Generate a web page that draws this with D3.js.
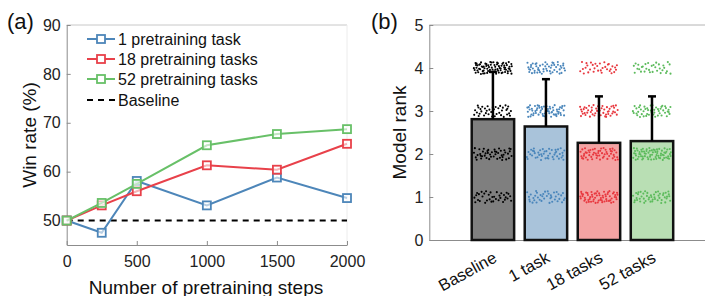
<!DOCTYPE html>
<html lang="en">
<head>
<meta charset="utf-8">
<title>Win rate and model rank</title>
<script src="https://cdn.jsdelivr.net/npm/d3@7"></script>
<style>
  body { margin: 0; background: #fff; }
  svg { font-family: "Liberation Sans", Arial, sans-serif; }
  .tick text { fill: #222; }
</style>
</head>
<body>
<script>
// ---- data, panel (a) ----
var steps = [0, 250, 500, 1000, 1500, 2000];
var oneTask = [50, 47.5, 58.1, 53.1, 58.8, 54.6];
var eighteenTasks = [50, 53.1, 56.0, 61.3, 60.4, 65.7];
var fiftyTwoTasks = [50, 53.6, 57.5, 65.4, 67.7, 68.7];
var seriesNames = ["1 pretraining task", "18 pretraining tasks", "52 pretraining tasks"];
var baselineRate = 50;
var xTicksA = [0, 500, 1000, 1500, 2000];
var yTicksA = [50, 60, 70, 80, 90];

// ---- data, panel (b) ----
var groups = ["Baseline", "1 task", "18 tasks", "52 tasks"];
var meanRank = [2.81, 2.64, 2.26, 2.30];
var errRank = [1.10, 1.10, 1.08, 1.04];
var rankCounts = [
  [35, 45, 40, 80],
  [40, 45, 62, 53],
  [62, 55, 50, 33],
  [48, 72, 48, 32]
];
var yTicksB = [0, 1, 2, 3, 4, 5];

var lineColors = ["#4d86b9", "#e8414a", "#68c068"];
var barFills = ["#7f7f7f", "#a9c3da", "#f4a3a3", "#b9dfb4"];
var dotColors = ["#000000", "#4a86bb", "#e8383f", "#5cbb5c"];

var w = 705, h = 296;
var svg = d3.select("body").append("svg").attr("width", w).attr("height", h);

// ================= panel (a) =================
var xA = d3.scaleLinear().domain([0, 2000]).range([66.7, 347]);
var yA = d3.scaleLinear().domain([45, 90]).range([245, 25]);

// box: faint top/right
svg.append("line").attr("x1", xA(0)).attr("x2", xA(2000)).attr("y1", yA(90)).attr("y2", yA(90))
  .attr("stroke", "#c8c8c8").attr("stroke-width", 1);
svg.append("line").attr("x1", xA(2000)).attr("x2", xA(2000)).attr("y1", yA(90)).attr("y2", yA(45))
  .attr("stroke", "#ececec").attr("stroke-width", 1);

var axXA = svg.append("g").attr("transform", "translate(0," + yA(45) + ")")
  .call(d3.axisBottom(xA).tickValues(xTicksA).tickSizeInner(-4).tickSizeOuter(0).tickPadding(11).tickFormat(d3.format("d")));
var axYA = svg.append("g").attr("transform", "translate(" + xA(0) + ",0)")
  .call(d3.axisLeft(yA).tickValues(yTicksA).tickSizeInner(-4).tickSizeOuter(0).tickPadding(6));
[axXA, axYA].forEach(function(g) {
  g.selectAll(".domain").attr("stroke", "#8c8c8c");
  g.selectAll(".tick line").attr("stroke", "#8c8c8c");
  g.selectAll(".tick text").attr("font-size", 16);
});

// baseline dashed line
svg.append("line")
  .attr("x1", xA(0)).attr("x2", xA(2000))
  .attr("y1", yA(baselineRate)).attr("y2", yA(baselineRate))
  .attr("stroke", "#000").attr("stroke-width", 2).attr("stroke-dasharray", "6,5");

var allSeries = [oneTask, eighteenTasks, fiftyTwoTasks];
var line = d3.line().x(function(d, i) { return xA(steps[i]); }).y(function(d) { return yA(d); });

allSeries.forEach(function(vals, k) {
  svg.append("path").attr("d", line(vals)).attr("fill", "none")
    .attr("stroke", lineColors[k]).attr("stroke-width", 2);
  svg.selectAll(".m" + k).data(vals).enter().append("rect")
    .attr("x", function(d, i) { return xA(steps[i]) - 4; })
    .attr("y", function(d) { return yA(d) - 4; })
    .attr("width", 8).attr("height", 8)
    .attr("fill", "#fff").attr("fill-opacity", 0.6)
    .attr("stroke", lineColors[k]).attr("stroke-width", 1.8);
});

// legend
var leg = svg.append("g");
seriesNames.forEach(function(name, k) {
  var cy = 39 + k * 20;
  leg.append("line").attr("x1", 87).attr("x2", 115).attr("y1", cy).attr("y2", cy)
    .attr("stroke", lineColors[k]).attr("stroke-width", 2);
  leg.append("rect").attr("x", 97).attr("y", cy - 4).attr("width", 8).attr("height", 8)
    .attr("fill", "#fff").attr("stroke", lineColors[k]).attr("stroke-width", 1.8);
  leg.append("text").attr("x", 118).attr("y", cy + 6).attr("font-size", 16).attr("fill", "#111").text(name);
});
leg.append("line").attr("x1", 87).attr("x2", 118).attr("y1", 100).attr("y2", 100)
  .attr("stroke", "#000").attr("stroke-width", 2).attr("stroke-dasharray", "6,5");
leg.append("text").attr("x", 118).attr("y", 106).attr("font-size", 16).attr("fill", "#111").text("Baseline");

svg.append("text").attr("x", 206).attr("y", 294).attr("text-anchor", "middle")
  .attr("font-size", 19).attr("fill", "#111").text("Number of pretraining steps");
svg.append("text").attr("transform", "translate(36,135) rotate(-90)").attr("text-anchor", "middle")
  .attr("font-size", 19).attr("fill", "#111").text("Win rate (%)");
svg.append("text").attr("x", 7).attr("y", 29).attr("font-size", 22).attr("fill", "#111").text("(a)");

// ================= panel (b) =================
var xB = d3.scaleLinear().domain([-0.2, 5]).range([429.3, 705]);
var yB = d3.scaleLinear().domain([0, 5]).range([240, 25]);
var barW = xB(0.8) - xB(0);

svg.append("line").attr("x1", xB(-0.2)).attr("x2", xB(5)).attr("y1", yB(5)).attr("y2", yB(5))
  .attr("stroke", "#b4b4b4").attr("stroke-width", 1);

var axYB = svg.append("g").attr("transform", "translate(" + xB(-0.2) + ",0)")
  .call(d3.axisLeft(yB).tickValues(yTicksB).tickSizeInner(-4).tickSizeOuter(0).tickPadding(6).tickFormat(d3.format("d")));
var axXB = svg.append("g").attr("transform", "translate(0," + yB(0) + ")")
  .call(d3.axisBottom(xB).tickValues([]).tickSizeOuter(0));
[axXB, axYB].forEach(function(g) {
  g.selectAll(".domain").attr("stroke", "#8c8c8c");
  g.selectAll(".tick line").attr("stroke", "#8c8c8c");
  g.selectAll(".tick text").attr("font-size", 16);
});

// bars
svg.selectAll(".bar").data(meanRank).enter().append("rect")
  .attr("x", function(d, i) { return xB(i + 1) - barW / 2; })
  .attr("y", function(d) { return yB(d); })
  .attr("width", barW)
  .attr("height", function(d) { return yB(0) - yB(d); })
  .attr("fill", function(d, i) { return barFills[i]; })
  .attr("stroke", "#111").attr("stroke-width", 2.5);

// jittered dots: ranks come from rankCounts, jitter from a halton sequence
function halton(i, b) {
  var f = 1, r = 0;
  while (i > 0) { f = f / b; r = r + f * (i % b); i = Math.floor(i / b); }
  return r;
}
var dots = [];
rankCounts.forEach(function(counts, g) {
  var n = 0;
  counts.forEach(function(c, r) {
    for (var j = 0; j < c; j++) {
      n++;
      dots.push({ g: g, rank: r + 1,
        jx: (halton(n * 3 + 11 * g + 5, 2) - 0.5) * 0.72,
        jy: (halton(n * 3 + 11 * g + 5, 5) - 0.5) * 0.28 });
    }
  });
});
svg.selectAll(".dot").data(dots).enter().append("circle")
  .attr("cx", function(d) { return xB(d.g + 1 + d.jx); })
  .attr("cy", function(d) { return yB(d.rank + d.jy); })
  .attr("r", 1.05)
  .attr("fill", function(d) { return dotColors[d.g]; });

// error bars (upper only)
meanRank.forEach(function(m, i) {
  var cx = xB(i + 1);
  svg.append("line").attr("x1", cx).attr("x2", cx).attr("y1", yB(m)).attr("y2", yB(m + errRank[i]))
    .attr("stroke", "#000").attr("stroke-width", 2.5);
  svg.append("line").attr("x1", cx - 4).attr("x2", cx + 4).attr("y1", yB(m + errRank[i])).attr("y2", yB(m + errRank[i]))
    .attr("stroke", "#000").attr("stroke-width", 2.5);
});

// rotated category labels
svg.selectAll(".cat").data(groups).enter().append("text")
  .attr("transform", function(d, i) { return "translate(" + (xB(i + 1) + 5) + ",261) rotate(-29)"; })
  .attr("text-anchor", "end").attr("font-size", 16.5).attr("fill", "#111")
  .text(function(d) { return d; });

svg.append("text").attr("transform", "translate(406,132.5) rotate(-90)").attr("text-anchor", "middle")
  .attr("font-size", 19).attr("fill", "#111").text("Model rank");
svg.append("text").attr("x", 371).attr("y", 29).attr("font-size", 22).attr("fill", "#111").text("(b)");
</script>
</body>
</html>
